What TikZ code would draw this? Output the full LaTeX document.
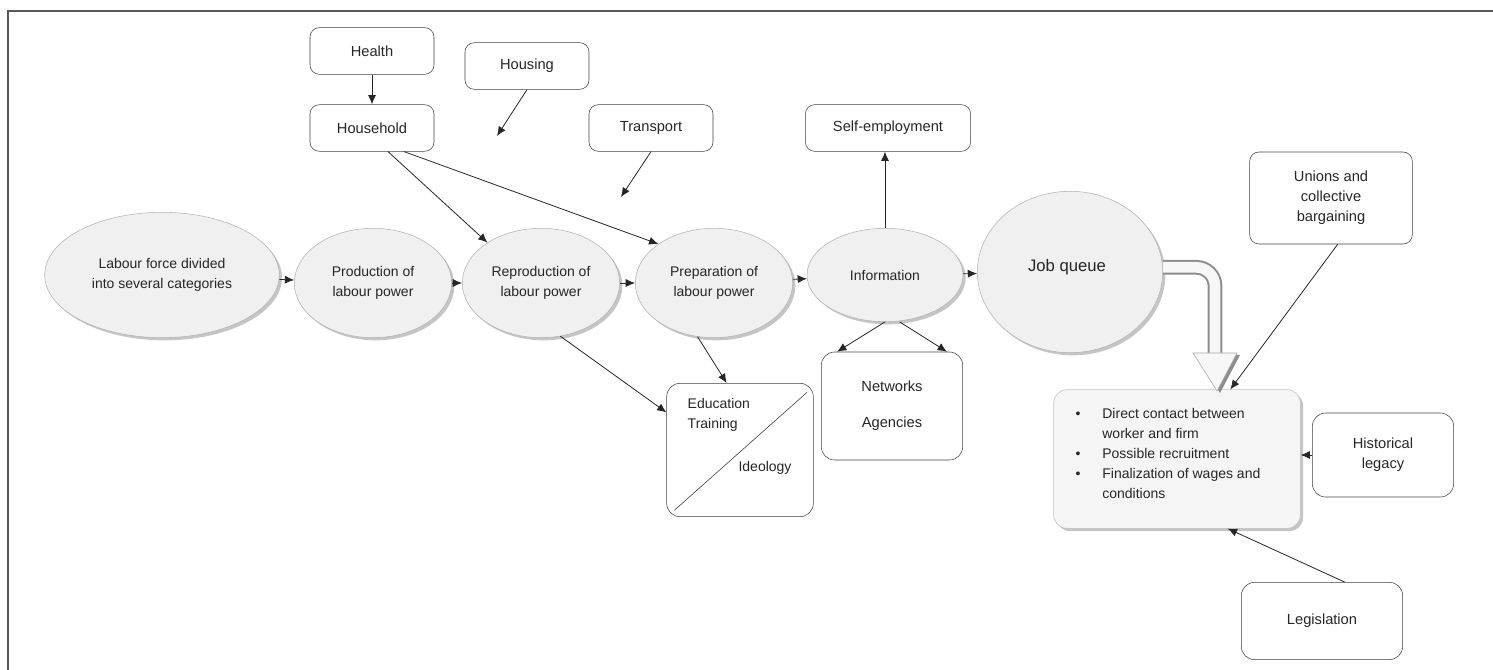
\documentclass[tikz,border=0pt]{standalone}
\usepackage{fontspec}
\setmainfont{Liberation Sans}
\usetikzlibrary{shapes.geometric,arrows.meta,shadows}

\begin{document}
\begin{tikzpicture}[x=0.75pt,y=-0.75pt,
    txt/.style={text=black!85,font=\fontsize{10.5}{15}\selectfont,align=center},
    oval/.style={txt,ellipse,draw=black!30,fill=black!6,inner sep=0pt,
        drop shadow={shadow xshift=2pt,shadow yshift=-2pt,fill=black!45}},
    box/.style={txt,draw=black!75,rounded corners=7pt,inner sep=0pt,
        font=\fontsize{11}{15}\selectfont},
    arr/.style={-{Latex[length=7pt,width=6pt]},black!85,semithick}]
\useasboundingbox (0,0) rectangle (1493,670);
\draw[black!65,line width=1.3pt] (8,670) -- (8,11) -- (1493,11); % frame

% top boxes
\node[box,minimum width=93pt,minimum height=35pt] (health) at (372,51) {Health};
\node[box,minimum width=93pt,minimum height=35pt] (household) at (372,128) {Household};
\node[box,minimum width=93pt,minimum height=35pt] (housing) at (527,66) {Housing};
\node[box,minimum width=93pt,minimum height=35pt] (transport) at (651,128) {Transport};
\node[box,minimum width=124pt,minimum height=35pt] (selfemp) at (888,128) {Self-employment};
\node[box,minimum width=122pt,minimum height=69pt] (unions) at (1331,198) {Unions and\\collective\\bargaining};

% main chain
\node[oval,minimum width=176pt,minimum height=94pt] (labour) at (162,275) {Labour force divided\\into several categories};
\node[oval,minimum width=118pt,minimum height=82pt] (prod) at (373,283) {Production of\\labour power};
\node[oval,minimum width=118pt,minimum height=82pt] (repro) at (541,283) {Reproduction of\\labour power};
\node[oval,minimum width=118pt,minimum height=82pt] (prep) at (714,283) {Preparation of\\labour power};
\node[oval,minimum width=117pt,minimum height=70pt] (info) at (885,275) {Information};
\node[oval,minimum width=139pt,minimum height=121pt,font=\fontsize{12.5}{15}\selectfont] (jq) at (1070,272) {};
\node[txt,font=\fontsize{12.5}{15}\selectfont] (jqtxt) at (1067,267) {Job queue};

% lower boxes
\node[box,minimum width=110pt,minimum height=100pt,rounded corners=10pt] (edu) at (740,450) {};
\draw[black!80] ([xshift=6pt,yshift=5pt]edu.south west) -- ([xshift=-5pt,yshift=-7pt]edu.north east);
\node[txt,align=left,anchor=north west] (edutxt) at (683,394) {Education\\Training};
\node[txt] (ideo) at (765,468) {Ideology};
\node[box,minimum width=106pt,minimum height=81pt,rounded corners=10pt] (nets) at (892,406) {Networks\\[12pt]Agencies};
\node[txt,draw=black!25,fill=black!4,rounded corners=10pt,minimum width=185pt,minimum height=104pt,
    drop shadow={shadow xshift=2pt,shadow yshift=-2pt,fill=black!45}] (bigbox) at (1177,459) {};
\node[txt,align=left,anchor=north west,font=\fontsize{10.5}{15}\selectfont] (bullets) at (1071,404)
    {\makebox[20pt][l]{\textbullet}Direct contact between\\\hspace*{20pt}worker and firm\\
     \makebox[20pt][l]{\textbullet}Possible recruitment\\
     \makebox[20pt][l]{\textbullet}Finalization of wages and\\\hspace*{20pt}conditions};
\node[box,minimum width=106pt,minimum height=63pt,rounded corners=10pt] (hist) at (1383,455) {Historical\\legacy};
\node[box,minimum width=121pt,minimum height=58pt,rounded corners=10pt] (legis) at (1322,621) {Legislation};

% free ends
\coordinate (hsgend) at (497,136);
\coordinate (trpend) at (621,197);
\coordinate (hdtop) at (1215,355);

% connectors
\draw[arr] (health) -- (household);
\draw[arr] (housing.south) -- (hsgend);
\draw[arr] (transport.south) -- (trpend);
\draw[arr] ([xshift=12pt]household.south) -- (repro.143);
\draw[arr] ([xshift=24pt]household.south) -- (prep.145);
\foreach \a/\b in {labour/prod,prod/repro,repro/prep,prep/info,info/jq}
    \draw[arr] (\a) -- (\b);
\draw[arr] (info.north) -- (info.north |- selfemp.south);
\draw[arr] (repro.-70) -- ([yshift=-22pt]edu.north west);
\draw[arr] (prep.-107) -- ([xshift=-10pt]edu.north);
\draw[arr] (info.south) -- ([xshift=12pt]nets.north west);
\draw[arr] ([xshift=11pt]info.south) -- ([xshift=-12pt]nets.north east);
\draw[arr] ([xshift=5pt]unions.south) -- ([xshift=40pt]bigbox.north);
\draw[arr] (hist.west) -- (hist.west -| bigbox.east);
\draw[arr] ([xshift=17pt]legis.north) -- ([xshift=38pt]bigbox.south);

% block arrow from job queue
\draw[black!45,line width=1.5pt,double=black!3,double distance=8pt,rounded corners=14pt]
    ([yshift=3.5pt]jq.east) -| (hdtop);
\fill[black!45] (1196,355) -- (1240,355) -- (1220,393) -- cycle;
\filldraw[draw=black!35,fill=black!3] (1193,353) -- (1237,353) -- (1217,391) -- cycle;
\end{tikzpicture}
\end{document}
